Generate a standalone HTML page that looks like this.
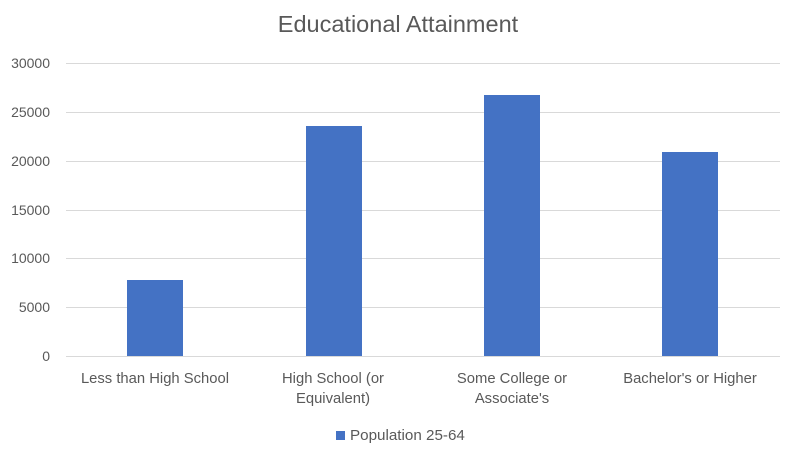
<!DOCTYPE html>
<html><head><style>
body{margin:0;background:#fff;}
svg{display:block;font-family:"Liberation Sans",Calibri,sans-serif;}
</style></head><body>
<svg width="788" height="454" xmlns="http://www.w3.org/2000/svg">
<rect width="788" height="454" fill="#fff"/>
<text x="398" y="32" text-anchor="middle" font-size="23.5" fill="#595959">Educational Attainment</text>
<g stroke="#d9d9d9" stroke-width="1">
<line x1="66" x2="780" y1="63.5" y2="63.5"/>
<line x1="66" x2="780" y1="112.5" y2="112.5"/>
<line x1="66" x2="780" y1="161.5" y2="161.5"/>
<line x1="66" x2="780" y1="210.5" y2="210.5"/>
<line x1="66" x2="780" y1="258.5" y2="258.5"/>
<line x1="66" x2="780" y1="307.5" y2="307.5"/>
<line x1="66" x2="780" y1="356.5" y2="356.5"/>
</g>
<g font-size="14" fill="#595959" text-anchor="end">
<text x="50" y="68">30000</text>
<text x="50" y="117">25000</text>
<text x="50" y="166">20000</text>
<text x="50" y="215">15000</text>
<text x="50" y="263">10000</text>
<text x="50" y="312">5000</text>
<text x="50" y="361">0</text>
</g>
<g fill="#4472c4">
<rect x="127" y="280" width="56" height="76"/>
<rect x="306" y="126" width="56" height="230"/>
<rect x="484" y="95" width="56" height="261"/>
<rect x="662" y="152" width="56" height="204"/>
</g>
<g font-size="14.8" fill="#595959" text-anchor="middle">
<text x="155" y="383">Less than High School</text>
<text x="333" y="383">High School (or</text>
<text x="333" y="403">Equivalent)</text>
<text x="512" y="383">Some College or</text>
<text x="512" y="403">Associate's</text>
<text x="690" y="383">Bachelor's or Higher</text>
</g>
<rect x="336" y="431" width="9" height="9" fill="#4472c4"/>
<text x="350" y="440" font-size="15.2" fill="#595959">Population 25-64</text>
</svg>
</body></html>
